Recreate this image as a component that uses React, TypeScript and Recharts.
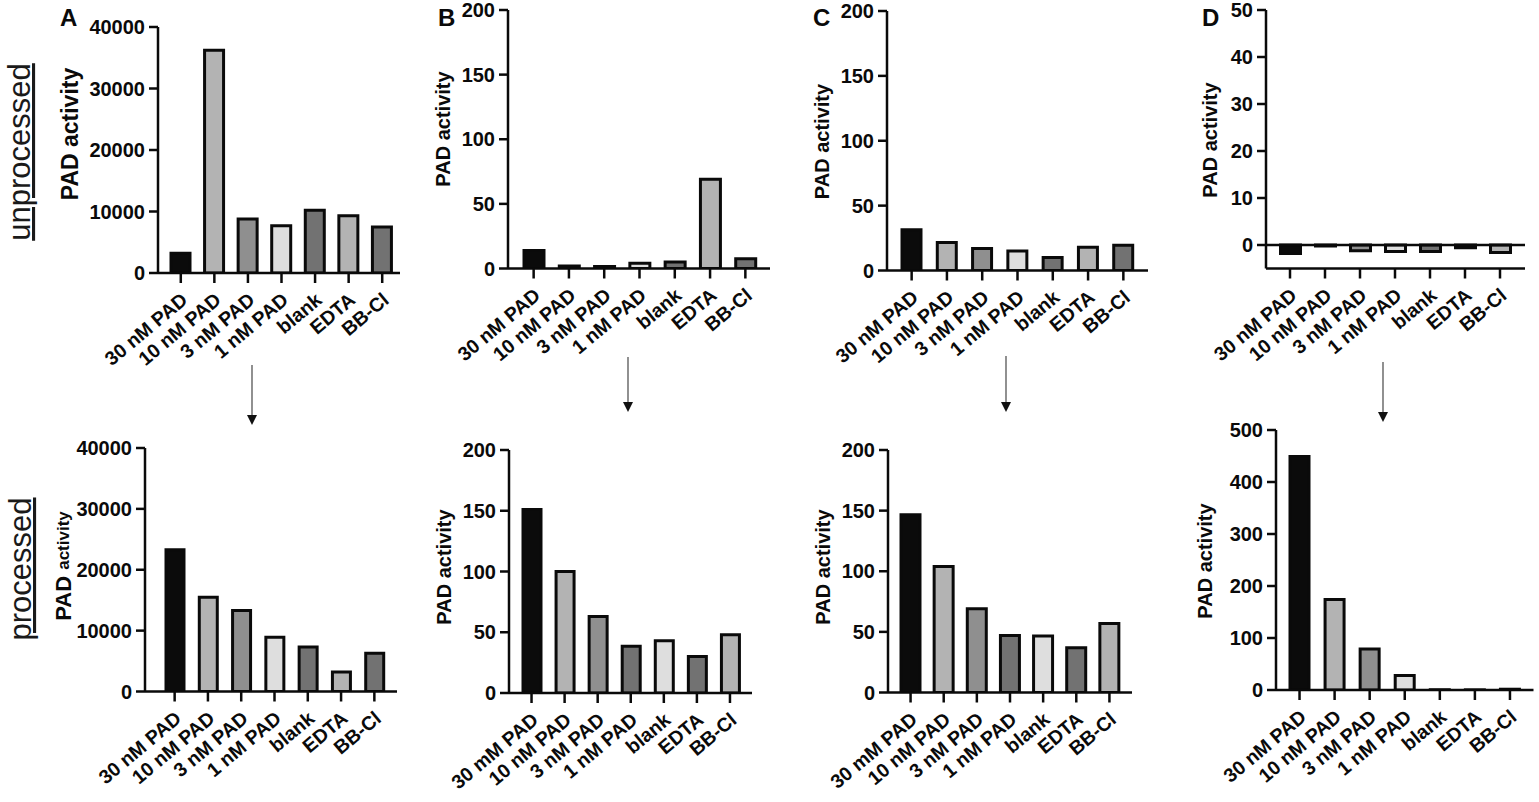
import { Bar, BarChart, Cell, ReferenceLine, XAxis, YAxis } from "recharts";

// categories
const CATEGORIES = ["30 nM PAD", "10 nM PAD", "3 nM PAD", "1 nM PAD", "blank", "EDTA", "BB-Cl"];
const CATEGORIES_MM = ["30 mM PAD", "10 nM PAD", "3 nM PAD", "1 nM PAD", "blank", "EDTA", "BB-Cl"];

// values (upper row = unprocessed, lower row = processed)
const A_UNPROCESSED = [3200, 36200, 8800, 7700, 10200, 9300, 7500];
const A_PROCESSED = [23300, 15500, 13300, 8900, 7300, 3200, 6300];
const B_UNPROCESSED = [14, 2, 1.5, 4, 5, 69, 7.5];
const B_PROCESSED = [151, 100, 63, 38.5, 43, 30, 48];
const C_UNPROCESSED = [31.5, 21.5, 17, 15, 10, 18, 19.5];
const C_PROCESSED = [146.5, 104, 69, 47, 46.5, 37, 57];
const D_UNPROCESSED = [-1.8, -0.2, -1.2, -1.4, -1.4, -0.6, -1.6];
const D_PROCESSED = [449, 174, 79, 28, 0.5, 0.3, 1.5];

// tick labels
const TICKS_A = [0, 10000, 20000, 30000, 40000];
const TICKS_BC = [0, 50, 100, 150, 200];
const TICKS_D_TOP = [0, 10, 20, 30, 40, 50];
const TICKS_D_BOTTOM = [0, 100, 200, 300, 400, 500];

const INK = "#0a0a0a";
const FONT = "'Liberation Sans', Arial, sans-serif";
const BLACK = "#0b0b0b";
const LIGHT = "#b3b3b3";
const MID = "#8f8f8f";
const PALE = "#dedede";
const DARK = "#727272";

const FILLS_1 = [BLACK, LIGHT, MID, PALE, DARK, LIGHT, DARK];
const FILLS_2 = [BLACK, LIGHT, MID, DARK, PALE, DARK, LIGHT];
const FILLS_D = [BLACK, LIGHT, MID, PALE, DARK, DARK, LIGHT];

// chart chrome (px)
const YW = 110;
const MT = 14;
const MR = 8;
const MB = 110;

type Box = {
  axisX: number;
  right: number;
  top: number;
  bottom: number;
  padL: number;
  padR: number;
  barSize: number;
  labelX: number;
  labelY: number;
  labelSize: number;
  smallActivity?: boolean;
};

const XTick = (props: any) => {
  const { x, y, payload } = props;
  const ax = x + 8;
  const ay = y + 19;
  return (
    <text
      x={ax}
      y={ay}
      transform={`rotate(-40, ${ax}, ${ay})`}
      textAnchor="end"
      fill={INK}
      fontSize={19.5}
      fontWeight={700}
      fontFamily={FONT}
    >
      {payload.value}
    </text>
  );
};

type PanelProps = {
  categories: string[];
  values: number[];
  fills: string[];
  ticks: number[];
  domain: [number, number];
  box: Box;
};

const Panel = ({ categories, values, fills, ticks, domain, box }: PanelProps) => {
  const data = categories.map((name, i) => ({ name, value: values[i] }));
  const width = box.right - box.axisX + YW + MR;
  const height = box.bottom - box.top + MT + MB;
  const left = box.axisX - YW;
  const top = box.top - MT;
  const lx = box.labelX - left;
  const ly = box.labelY - top;

  const yLabel = () => (
    <text
      x={lx}
      y={ly}
      transform={`rotate(-90, ${lx}, ${ly})`}
      textAnchor="middle"
      dominantBaseline="central"
      fill={INK}
      fontWeight={700}
      fontFamily={FONT}
      fontSize={box.labelSize}
    >
      PAD{" "}
      <tspan fontSize={box.smallActivity ? 17 : box.labelSize}>activity</tspan>
    </text>
  );

  return (
    <div style={{ position: "absolute", left, top, width, height }}>
      <BarChart
        width={width}
        height={height}
        data={data}
        margin={{ top: MT, right: MR, bottom: 0, left: 0 }}
      >
        <XAxis
          dataKey="name"
          height={MB}
          interval={0}
          padding={{ left: box.padL, right: box.padR }}
          tickSize={10}
          tickMargin={0}
          tick={<XTick />}
          axisLine={{ stroke: INK, strokeWidth: 2.5 }}
          tickLine={{ stroke: INK, strokeWidth: 2.5 }}
        />
        <YAxis
          width={YW}
          domain={domain}
          ticks={ticks}
          interval={0}
          allowDataOverflow
          tickSize={9}
          tickMargin={4}
          tick={{ fill: INK, fontSize: 20, fontWeight: 700, fontFamily: FONT }}
          axisLine={{ stroke: INK, strokeWidth: 2.5 }}
          tickLine={{ stroke: INK, strokeWidth: 2.5 }}
          label={{ content: yLabel }}
        />
        {domain[0] < 0 && <ReferenceLine y={0} stroke={INK} strokeWidth={2.5} />}
        <Bar
          dataKey="value"
          barSize={box.barSize}
          stroke={INK}
          strokeWidth={3}
          isAnimationActive={false}
        >
          {data.map((d, i) => (
            <Cell key={d.name} fill={fills[i]} />
          ))}
        </Bar>
      </BarChart>
    </div>
  );
};

const BOX_A_TOP: Box = { axisX: 158, right: 400, top: 27, bottom: 273, padL: 6, padR: 1, barSize: 19, labelX: 70, labelY: 134, labelSize: 23 };
const BOX_B_TOP: Box = { axisX: 508, right: 770, top: 10, bottom: 268.5, padL: 8, padR: 7, barSize: 20, labelX: 443, labelY: 129, labelSize: 20 };
const BOX_C_TOP: Box = { axisX: 887, right: 1148, top: 10.5, bottom: 270, padL: 7, padR: 7, barSize: 19, labelX: 822, labelY: 141, labelSize: 20 };
const BOX_D_TOP: Box = { axisX: 1266, right: 1525, top: 10, bottom: 268.5, padL: 6.5, padR: 7.5, barSize: 20, labelX: 1210, labelY: 140, labelSize: 20 };
const BOX_A_BOT: Box = { axisX: 145, right: 397, top: 448, bottom: 691.5, padL: 13, padR: 6, barSize: 18, labelX: 63, labelY: 566, labelSize: 22, smallActivity: true };
const BOX_B_BOT: Box = { axisX: 509, right: 752, top: 450, bottom: 693, padL: 6, padR: 5.5, barSize: 18, labelX: 444, labelY: 567, labelSize: 20 };
const BOX_C_BOT: Box = { axisX: 888, right: 1132, top: 450, bottom: 692.5, padL: 6, padR: 6, barSize: 19, labelX: 823, labelY: 567, labelSize: 20 };
const BOX_D_BOT: Box = { axisX: 1275.5, right: 1533, top: 430, bottom: 690, padL: 6, padR: 6, barSize: 19, labelX: 1204, labelY: 561, labelSize: 20 };

const ARROWS = [
  { x: 252, y1: 365, y2: 425 },
  { x: 628, y1: 357, y2: 412 },
  { x: 1006, y1: 356, y2: 412 },
  { x: 1383, y1: 362, y2: 422 },
];

const LETTERS = [
  { t: "A", x: 60 },
  { t: "B", x: 438 },
  { t: "C", x: 813 },
  { t: "D", x: 1202 },
];

const App = () => (
  <div
    style={{
      position: "absolute",
      left: 0,
      top: 0,
      width: 1539,
      height: 802,
      overflow: "hidden",
      background: "#fff",
    }}
  >
    <Panel categories={CATEGORIES} values={A_UNPROCESSED} fills={FILLS_1} ticks={TICKS_A} domain={[0, 40000]} box={BOX_A_TOP} />
    <Panel categories={CATEGORIES} values={B_UNPROCESSED} fills={FILLS_1} ticks={TICKS_BC} domain={[0, 200]} box={BOX_B_TOP} />
    <Panel categories={CATEGORIES} values={C_UNPROCESSED} fills={FILLS_1} ticks={TICKS_BC} domain={[0, 200]} box={BOX_C_TOP} />
    <Panel categories={CATEGORIES} values={D_UNPROCESSED} fills={FILLS_D} ticks={TICKS_D_TOP} domain={[-5, 50]} box={BOX_D_TOP} />
    <Panel categories={CATEGORIES} values={A_PROCESSED} fills={FILLS_1} ticks={TICKS_A} domain={[0, 40000]} box={BOX_A_BOT} />
    <Panel categories={CATEGORIES_MM} values={B_PROCESSED} fills={FILLS_2} ticks={TICKS_BC} domain={[0, 200]} box={BOX_B_BOT} />
    <Panel categories={CATEGORIES_MM} values={C_PROCESSED} fills={FILLS_2} ticks={TICKS_BC} domain={[0, 200]} box={BOX_C_BOT} />
    <Panel categories={CATEGORIES} values={D_PROCESSED} fills={FILLS_1} ticks={TICKS_D_BOTTOM} domain={[0, 500]} box={BOX_D_BOT} />

    {/* panel letters, row titles, arrows */}
    <svg
      width={1539}
      height={802}
      style={{ position: "absolute", left: 0, top: 0, pointerEvents: "none" }}
    >
      {LETTERS.map((l) => (
        <text key={l.t} x={l.x} y={26} fontSize={24} fontWeight={700} fontFamily={FONT} fill={INK}>
          {l.t}
        </text>
      ))}
      <text
        x={30}
        y={152}
        transform="rotate(-90, 30, 152)"
        textAnchor="middle"
        fontSize={31}
        fontFamily={FONT}
        fill="#1a1a1a"
        textDecoration="underline"
      >
        unprocessed
      </text>
      <text
        x={31}
        y={569}
        transform="rotate(-90, 31, 569)"
        textAnchor="middle"
        fontSize={31}
        fontFamily={FONT}
        fill="#1a1a1a"
        textDecoration="underline"
      >
        processed
      </text>
      {ARROWS.map((a) => (
        <g key={a.x}>
          <line x1={a.x} y1={a.y1} x2={a.x} y2={a.y2 - 6} stroke="#555" strokeWidth={1.3} />
          <polygon points={`${a.x - 5},${a.y2 - 10} ${a.x + 5},${a.y2 - 10} ${a.x},${a.y2}`} fill="#111" />
        </g>
      ))}
    </svg>
  </div>
);

export default App;
